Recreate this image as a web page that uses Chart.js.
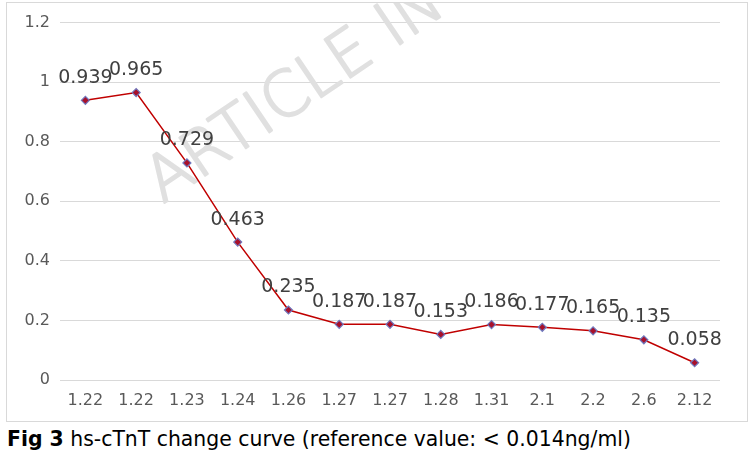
<!DOCTYPE html>
<html>
<head>
<meta charset="utf-8">
<script src="https://cdn.jsdelivr.net/npm/chart.js@4.4.0/dist/chart.umd.min.js"></script>
<style>
  body{ margin:0; width:756px; height:458px; background:#fff; font-family:"DejaVu Sans", sans-serif; position:relative; overflow:hidden; }
  #box{ position:absolute; left:6px; top:2px; width:740px; height:418px; border:1px solid #d9d9d9; }
  #caption{ position:absolute; left:7px; top:427px; font-size:20.4px; line-height:24px; color:#000; white-space:nowrap; }
</style>
</head>
<body>
<div id="box"><canvas id="chart" width="740" height="418"></canvas></div>
<div id="caption"><b>Fig 3</b> hs-cTnT change curve (reference value: &lt; 0.014ng/ml)</div>
<script>
// data
const labels = ['1.22','1.22','1.23','1.24','1.26','1.27','1.27','1.28','1.31','2.1','2.2','2.6','2.12'];
const values = [0.939,0.965,0.729,0.463,0.235,0.187,0.187,0.153,0.186,0.177,0.165,0.135,0.058];
const yTicks = [0,0.2,0.4,0.6,0.8,1,1.2];

// faint watermark behind the line
const watermark = {
  id:'watermark',
  beforeDatasetsDraw(chart){
    const c = chart.ctx;
    c.save();
    c.translate(156, 201);
    c.rotate(-34*Math.PI/180);
    c.font = '200 63px "DejaVu Sans"';
    c.fillStyle = '#e0e0e0';
    c.strokeStyle = '#e0e0e0';
    c.lineWidth = 2.2;
    c.lineJoin = 'round';
    c.textBaseline = 'alphabetic';
    c.strokeText('ARTICLE IN', 0, 0);
    c.fillText('ARTICLE IN', 0, 0);
    c.restore();
  }
};

// value labels above each point
const valueLabels = {
  id:'valueLabels',
  afterDatasetsDraw(chart){
    const c = chart.ctx;
    const meta = chart.getDatasetMeta(0);
    c.save();
    c.font = '19px "DejaVu Sans"';
    c.fillStyle = '#404040';
    c.textAlign = 'center';
    c.textBaseline = 'bottom';
    meta.data.forEach((p,i)=>{
      c.fillText(String(values[i]), p.x, p.y - 13);
    });
    c.restore();
  }
};

new Chart(document.getElementById('chart'), {
  type:'line',
  data:{
    labels,
    datasets:[{
      data: values,
      borderColor:'#c00000',
      borderWidth:1.5,
      tension:0,
      pointStyle:'rectRot',
      pointRadius:4,
      pointBackgroundColor:'#a8102a',
      pointBorderColor:'#7078bd',
      pointBorderWidth:1.2
    }]
  },
  options:{
    responsive:false,
    animation:false,
    layout:{ padding:{ top:19, right:27, left:0, bottom:0 } },
    plugins:{ legend:{ display:false }, tooltip:{ enabled:false } },
    scales:{
      x:{
        offset:true,
        grid:{ display:false, drawTicks:false },
        border:{ display:false },
        ticks:{ color:'#595959', font:{ family:'DejaVu Sans', size:16 }, padding:11, maxRotation:0, autoSkip:false },
        afterFit(s){ s.height = 41; }
      },
      y:{
        min:0, max:1.2,
        afterBuildTicks(s){ s.ticks = yTicks.map(v=>({ value:v })); },
        grid:{ color:'#d9d9d9', drawTicks:false, lineWidth:1 },
        border:{ display:false },
        ticks:{ color:'#595959', font:{ family:'DejaVu Sans', size:16 }, padding:10,
          callback:(v)=> String(v) },
        afterFit(s){ s.width = 53; }
      }
    }
  },
  plugins:[watermark, valueLabels]
});
</script>
</body>
</html>
